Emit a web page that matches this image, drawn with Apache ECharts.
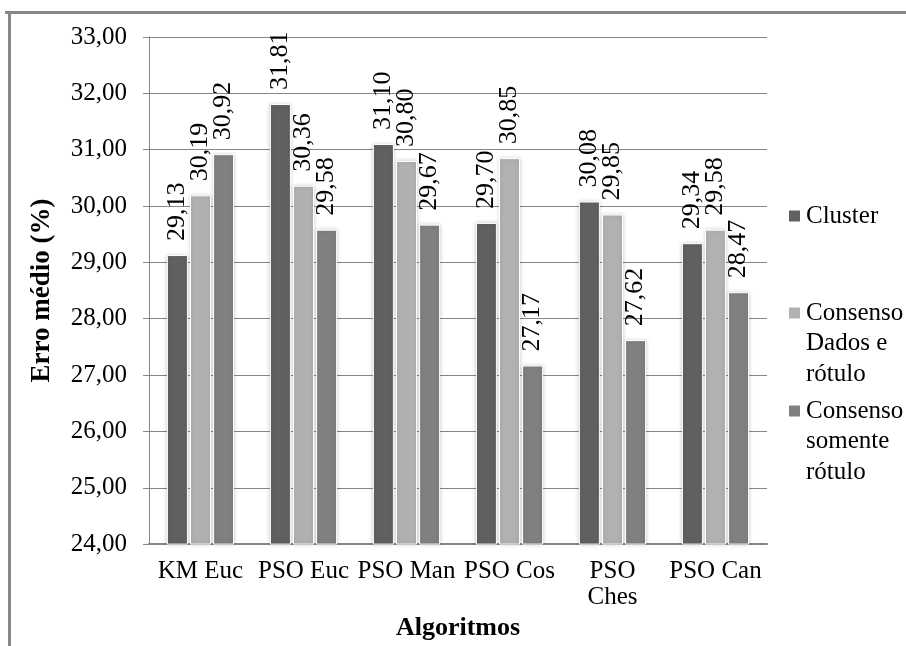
<!DOCTYPE html>
<html>
<head>
<meta charset="utf-8">
<script src="https://cdn.jsdelivr.net/npm/echarts@6/dist/echarts.min.js"></script>
<style>
html,body{margin:0;padding:0;background:#fff;}
#c{width:906px;height:646px;}
</style>
</head>
<body>
<div id="c"></div>
<script>
const categories = ['KM Euc', 'PSO Euc', 'PSO Man', 'PSO Cos', 'PSO\nChes', 'PSO Can'];
const seriesNames = ['Cluster', 'Consenso Dados e rótulo', 'Consenso somente rótulo'];
const legendLines = {
  'Cluster': ['Cluster'],
  'Consenso Dados e rótulo': ['Consenso', 'Dados e', 'rótulo'],
  'Consenso somente rótulo': ['Consenso', 'somente', 'rótulo']
};
const clusterValues = [29.13, 31.81, 31.10, 29.70, 30.08, 29.34];
const dadosRotuloValues = [30.19, 30.36, 30.80, 30.85, 29.85, 29.58];
const somenteRotuloValues = [30.92, 29.58, 29.67, 27.17, 27.62, 28.47];
const yMin = 24, yMax = 33, yStep = 1;

const FONT = '"Liberation Serif", "Times New Roman", serif';
const FS = 25;
const LH = 30.5;
const colors = ['#606060', '#b1b1b1', '#808080'];
const fmt = v => v.toFixed(2).replace('.', ',');

const chart = echarts.init(document.getElementById('c'), null, {renderer: 'canvas'});

function makeSeries(name, data, color) {
  return {
    name: name,
    type: 'bar',
    data: data,
    barWidth: 21,
    barGap: '10%',
    itemStyle: {
      color: color,
      borderColor: '#ffffff',
      borderWidth: 1,
      shadowColor: 'rgba(0,0,0,0.18)',
      shadowBlur: 4
    },
    label: {
      show: true,
      position: 'top',
      rotate: 90,
      align: 'left',
      verticalAlign: 'middle',
      distance: 14,
      fontFamily: FONT,
      fontSize: 26,
      color: '#000',
      formatter: p => fmt(p.value)
    }
  };
}

// legend icon sits at the vertical middle of the text block; pad with empty
// lines above so that the first written line lines up with the icon
function legendText(name) {
  const lines = legendLines[name];
  const pad = [];
  for (let i = 1; i < lines.length; i++) pad.push('');
  return pad.concat(lines).join('\n');
}

function makeLegend(name, iconCenterY) {
  const n = legendLines[name].length;
  const total = (2 * n - 1) * LH;
  const top = iconCenterY - total / 2;
  return {
    orient: 'vertical',
    left: 787,
    top: top,
    padding: 0,
    itemWidth: 13,
    itemHeight: 13,
    itemGap: 0,
    icon: 'rect',
    data: [name],
    selectedMode: false,
    formatter: nm => legendText(nm),
    textStyle: {
      fontFamily: FONT,
      fontSize: FS,
      color: '#000',
      lineHeight: LH
    }
  };
}

const option = {
  backgroundColor: '#ffffff',
  animation: false,
  color: colors,
  grid: {left: 149, right: 139, top: 37, bottom: 81, containLabel: false},
  legend: [
    makeLegend(seriesNames[0], 216),
    makeLegend(seriesNames[1], 313),
    makeLegend(seriesNames[2], 411)
  ],
  xAxis: {
    type: 'category',
    data: categories,
    name: 'Algoritmos',
    nameLocation: 'middle',
    nameGap: 47,
    nameTextStyle: {fontFamily: FONT, fontSize: 26, fontWeight: 'bold', color: '#000'},
    axisLine: {show: true, lineStyle: {color: '#868686', width: 2}},
    axisTick: {show: false},
    axisLabel: {fontFamily: FONT, fontSize: FS, color: '#000', margin: 14, lineHeight: 26, interval: 0}
  },
  yAxis: {
    type: 'value',
    min: yMin,
    max: yMax,
    interval: yStep,
    name: 'Erro médio (%)',
    nameLocation: 'middle',
    nameGap: 93,
    nameTextStyle: {fontFamily: FONT, fontSize: 27, fontWeight: 'bold', color: '#000'},
    axisLine: {show: true, lineStyle: {color: '#868686', width: 1}},
    axisTick: {show: true, length: 6, lineStyle: {color: '#868686'}},
    splitLine: {show: true, lineStyle: {color: '#868686', width: 1}},
    axisLabel: {fontFamily: FONT, fontSize: FS, color: '#000', margin: 22, formatter: v => fmt(v)}
  },
  graphic: [
    {type: 'line', shape: {x1: 5, y1: 12.5, x2: 906, y2: 12.5}, style: {stroke: '#878787', lineWidth: 3}, z: 100},
    {type: 'line', shape: {x1: 9.5, y1: 11, x2: 9.5, y2: 646}, style: {stroke: '#878787', lineWidth: 3}, z: 100}
  ],
  series: [
    makeSeries(seriesNames[0], clusterValues, colors[0]),
    makeSeries(seriesNames[1], dadosRotuloValues, colors[1]),
    makeSeries(seriesNames[2], somenteRotuloValues, colors[2])
  ]
};
chart.setOption(option);
</script>
</body>
</html>
